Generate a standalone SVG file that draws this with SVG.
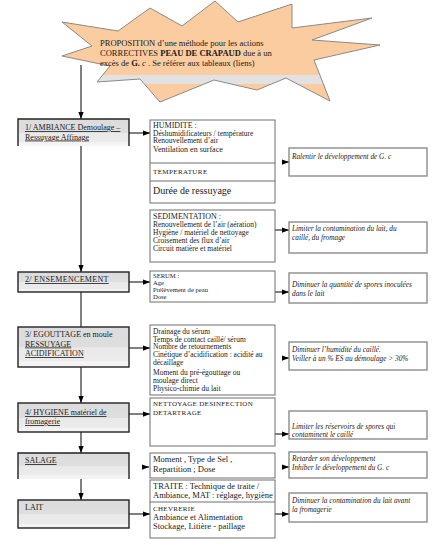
<svg xmlns="http://www.w3.org/2000/svg" width="440" height="554" viewBox="0 0 440 554">
<style>
text{font-family:"Liberation Serif","Times New Roman",serif;fill:#1a1a1a}
.st{font-size:8.5px}
.lb{font-size:8px;text-decoration:underline}
.lt{font-size:8px}
.m{font-size:8px}
.m7{font-size:7px}
.m65{font-size:6.6px}
.m75{font-size:7.5px}
.m85{font-size:8.5px}
.r{font-size:7.3px;font-style:italic}
.lbox{fill:url(#lg);stroke:#222;stroke-width:1.4}
.lopen{fill:url(#lg);stroke:none}
.ledge{fill:none;stroke:#222;stroke-width:1.4}
.mbox{fill:#fff;stroke:#6e6e6e;stroke-width:1}
.rbox{fill:#fff;stroke:#8c8c8c;stroke-width:1.4}
.c{stroke:#000;stroke-width:1;fill:none}
</style>
<defs>
<linearGradient id="lg" x1="0" y1="0" x2="0" y2="1">
<stop offset="0" stop-color="#dcdcdc"/><stop offset="0.5" stop-color="#dedede"/>
<stop offset="0.52" stop-color="#e9e9e9"/><stop offset="0.84" stop-color="#ebebeb"/>
<stop offset="0.86" stop-color="#f3f3f3"/><stop offset="1" stop-color="#f4f4f4"/>
</linearGradient>
<linearGradient id="sg" gradientUnits="userSpaceOnUse" x1="0" y1="0" x2="0" y2="102">
<stop offset="0" stop-color="#facca0"/><stop offset="0.735" stop-color="#facca0"/>
<stop offset="0.74" stop-color="#e2e2e2"/><stop offset="0.82" stop-color="#e2e2e2"/>
<stop offset="0.825" stop-color="#facca0"/><stop offset="1" stop-color="#facca0"/>
</linearGradient>
<marker id="ah" viewBox="0 0 8 6" refX="8" refY="3" markerWidth="7" markerHeight="5.5" orient="auto" markerUnits="userSpaceOnUse"><path d="M0,0 L8,3 L0,6 z" fill="#000"/></marker>
</defs>

<g id="star">
<polygon points="150,8 182,26 215,1 238,22 292,4 292,28 372,18 312,40 380,45 314,60 330,101 286,78 257,90 214,80 160,102 140,79 97,82 110,66 62,56 92,46 62,22 118,31" fill="url(#sg)" stroke="#8a8a8a" stroke-width="1"/>
<text class="st" x="100" y="46">PROPOSITION d’une méthode pour les actions</text>
<text class="st" x="100" y="56">CORRECTIVES <tspan font-weight="bold">PEAU DE CRAPAUD</tspan> due à un</text>
<text class="st" x="100" y="65.5">excès de <tspan font-weight="bold">G. </tspan><tspan font-style="italic">c</tspan> . Se référer aux tableaux (liens)</text>
</g>

<g id="connectors">
<line class="c" x1="81" y1="65" x2="81" y2="119" marker-end="url(#ah)"/>
<line class="c" x1="81" y1="146" x2="81" y2="272" marker-end="url(#ah)"/>
<line class="c" x1="81" y1="292" x2="81" y2="327"/>
<line class="c" x1="81" y1="367" x2="81" y2="403" marker-end="url(#ah)"/>
<line class="c" x1="81" y1="432" x2="81" y2="453" marker-end="url(#ah)"/>
<line class="c" x1="81" y1="479" x2="81" y2="500" marker-end="url(#ah)"/>
<line class="c" x1="129" y1="133" x2="150" y2="133" marker-end="url(#ah)"/>
<line class="c" x1="129" y1="282" x2="150" y2="282" marker-end="url(#ah)"/>
<line class="c" x1="129" y1="348" x2="150" y2="348" marker-end="url(#ah)"/>
<line class="c" x1="129" y1="414" x2="150" y2="414" marker-end="url(#ah)"/>
<line class="c" x1="142" y1="467" x2="149" y2="467" marker-end="url(#ah)"/>
<line class="c" x1="129" y1="514" x2="150" y2="514" marker-end="url(#ah)"/>
<line class="c" x1="283" y1="162" x2="289" y2="162" marker-end="url(#ah)"/>
<line class="c" x1="275" y1="230" x2="289" y2="230" marker-end="url(#ah)"/>
<line class="c" x1="275" y1="292" x2="289" y2="292" marker-end="url(#ah)"/>
<line class="c" x1="283" y1="358" x2="289" y2="358" marker-end="url(#ah)"/>
<line class="c" x1="275" y1="434" x2="289" y2="434" marker-end="url(#ah)"/>
<line class="c" x1="283" y1="467" x2="289" y2="467" marker-end="url(#ah)"/>
<line class="c" x1="275" y1="514" x2="289" y2="514" marker-end="url(#ah)"/>
</g>

<g id="b1">
<rect class="lopen" x="18" y="119" width="111" height="27"/>
<path class="ledge" d="M18,146 V119 H129 V146"/>
<text class="lb" x="25" y="130">1/ AMBIANCE Demoulage –</text>
<text class="lb" x="25" y="139.5">Ressuyage   Affinage</text>
</g>
<g id="b2">
<rect class="lbox" x="18" y="272" width="111" height="20"/>
<text class="lb" x="25" y="282" letter-spacing="0.3">2/ ENSEMENCEMENT</text>
</g>
<g id="b3">
<rect class="lbox" x="18" y="327" width="111" height="40"/>
<text class="lt" x="25" y="337">3/ EGOUTTAGE en moule</text>
<text class="lb" x="25" y="346.5">RESSUYAGE</text>
<text class="lb" x="25" y="356">ACIDIFICATION</text>
</g>
<g id="b4">
<rect class="lbox" x="18" y="403" width="111" height="29"/>
<text class="lb" x="25" y="415">4/ HYGIENE matériel de</text>
<text class="lb" x="25" y="424">fromagerie</text>
</g>
<g id="b5">
<rect class="lopen" x="18" y="453" width="111" height="26"/>
<path class="ledge" d="M18,479 V453 H129 V479"/>
<text class="lb" x="25" y="463">SALAGE</text>
</g>
<g id="b6">
<rect class="lbox" x="18" y="500" width="111" height="28"/>
<text class="lt" x="25" y="510">LAIT</text>
</g>

<g id="m1">
<rect class="mbox" x="150" y="120" width="125" height="83"/>
<line class="mbox" x1="150" y1="163" x2="275" y2="163"/>
<line class="mbox" x1="150" y1="181" x2="275" y2="181"/>
<text class="m" x="153" y="127.5">HUMIDITE :</text>
<text class="m75" x="153" y="135.5">Déshumidificateurs / température</text>
<text class="m75" x="153" y="143.3">Renouvellement d’air</text>
<text class="m" x="153" y="152">Ventilation en surface</text>
<text class="m7" x="153" y="174" letter-spacing="0.4">TEMPERATURE</text>
<text x="153" y="194" font-size="10">Durée de ressuyage</text>
</g>
<g id="m2">
<rect class="mbox" x="150" y="210" width="125" height="52"/>
<text class="m" x="153" y="219">SEDIMENTATION :</text>
<text class="m75" x="153" y="227">Renouvellement de l’air (aération)</text>
<text class="m75" x="153" y="235">Hygiène / matériel de nettoyage</text>
<text class="m75" x="153" y="242.8">Croisement des flux d’air</text>
<text class="m75" x="153" y="250.6">Circuit matière et matériel</text>
</g>
<g id="m3">
<rect class="mbox" x="150" y="271" width="125" height="31"/>
<text class="m65" x="153" y="277.5">SERUM :</text>
<text class="m65" x="153" y="284.6">Age</text>
<text class="m65" x="153" y="291.7">Prélèvement de peau</text>
<text class="m65" x="153" y="298.8">Dose</text>
</g>
<g id="m4">
<rect class="mbox" x="150" y="325" width="125" height="70"/>
<text class="m75" x="153" y="334">Drainage du sérum</text>
<text class="m75" x="153" y="341.6">Temps de contact caillé/ sérum</text>
<text class="m75" x="153" y="349.2">Nombre de retournements</text>
<text class="m75" x="153" y="356.8">Cinétique d’acidification : acidité au</text>
<text class="m75" x="153" y="364.5">décaillage</text>
<text class="m75" x="153" y="375">Moment du pré-égouttage ou</text>
<text class="m75" x="153" y="383">moulage direct</text>
<text class="m75" x="153" y="391">Physico-chimie du lait</text>
</g>
<g id="m5">
<rect class="mbox" x="150" y="398" width="125" height="48"/>
<text class="m7" x="153" y="406" letter-spacing="0.3">NETTOYAGE DESINFECTION</text>
<text class="m7" x="153" y="415" letter-spacing="0.3">DETARTRAGE</text>
</g>
<g id="m6">
<rect class="mbox" x="150" y="453" width="125" height="25"/>
<text class="m85" x="153" y="462">Moment , Type de Sel ,</text>
<text class="m85" x="153" y="471.5">Repartition ; Dose</text>
</g>
<g id="m7">
<rect class="mbox" x="150" y="480" width="125" height="58"/>
<line class="mbox" x1="150" y1="502" x2="275" y2="502"/>
<text class="m85" x="153" y="489">TRAITE : Technique de traite /</text>
<text class="m85" x="153" y="498">Ambiance, MAT : réglage, hygiène</text>
<text class="m7" x="153" y="510.5" letter-spacing="0.3">CHEVRERIE</text>
<text class="m85" x="153" y="520">Ambiance et Alimentation</text>
<text class="m85" x="153" y="529">Stockage, Litière - paillage</text>
</g>

<g id="r1">
<rect class="rbox" x="289" y="148" width="138" height="28"/>
<text class="r" x="292" y="158.5">Ralentir le développement de G. c</text>
</g>
<g id="r2">
<rect class="rbox" x="289" y="222" width="138" height="31"/>
<text class="r" x="292" y="231">Limiter la contamination du lait, du</text>
<text class="r" x="292" y="240">caillé, du fromage</text>
</g>
<g id="r3">
<rect class="rbox" x="289" y="273" width="138" height="30"/>
<text class="r" x="292" y="287">Diminuer la quantité de spores inoculées</text>
<text class="r" x="292" y="296">dans le lait</text>
</g>
<g id="r4">
<rect class="rbox" x="289" y="342" width="138" height="28"/>
<text class="r" x="292" y="352">Diminuer l’humidité du caillé.</text>
<text class="r" x="292" y="361">Veiller à un % ES au démoulage &gt; 30%</text>
</g>
<g id="r5">
<rect class="rbox" x="289" y="411" width="138" height="28"/>
<text class="r" x="292" y="428.5">Limiter les réservoirs de spores qui</text>
<text class="r" x="292" y="436.5">contaminent le caillé</text>
</g>
<g id="r6">
<rect class="rbox" x="289" y="452" width="138" height="26"/>
<text class="r" x="292" y="461">Retarder son développement</text>
<text class="r" x="292" y="470">Inhiber le développement du G. c</text>
</g>
<g id="r7">
<rect class="rbox" x="289" y="493" width="138" height="29"/>
<text class="r" x="292" y="503">Diminuer la contamination du lait avant</text>
<text class="r" x="292" y="512">la fromagerie</text>
</g>
</svg>
